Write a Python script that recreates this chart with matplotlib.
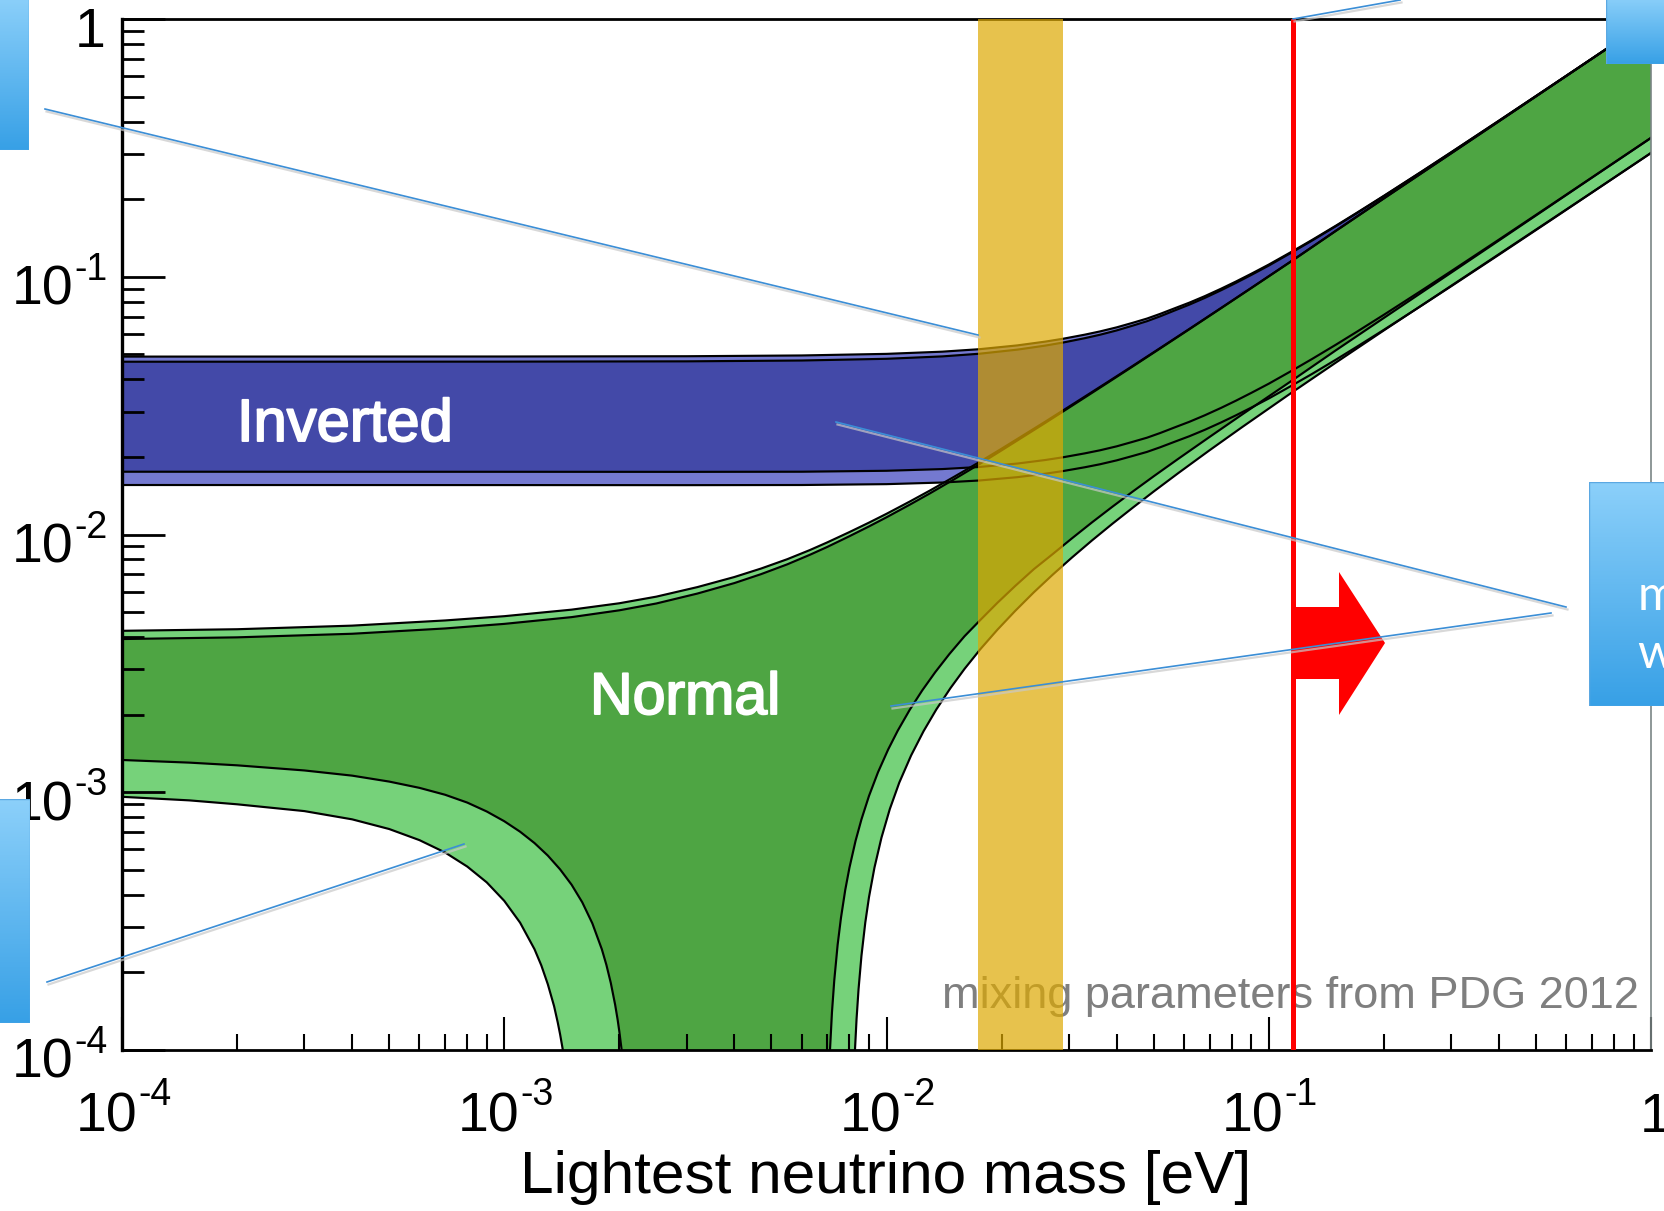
import numpy as np
import matplotlib
matplotlib.use('Agg')
import matplotlib.pyplot as plt
import matplotlib.patheffects as pe
from matplotlib.ticker import LogLocator, NullFormatter, FixedLocator
from matplotlib.colors import LinearSegmentedColormap
from matplotlib.patches import Polygon, Rectangle
from matplotlib.lines import Line2D
from matplotlib.transforms import blended_transform_factory, ScaledTranslation

# ---------------- data ----------------
# Normal hierarchy: upper boundaries (3 sigma and best fit)
nh_up_m = [1e-4, 2e-4, 4e-4, 7e-4, 1e-3, 1.5e-3, 2e-3, 2.5e-3, 3.2e-3, 4e-3, 4.7e-3,
           5.5e-3, 6.3e-3, 7e-3, 8e-3, 9e-3, 0.01, 0.0115, 0.013, 0.015, 0.0175, 0.02,
           0.023, 0.026, 0.029, 0.033, 0.038, 0.044, 0.052, 0.062, 0.075, 0.09, 0.1157,
           0.15, 0.2, 0.3, 0.4, 0.55, 0.7, 1.0]
nh_up_3s = [0.00423, 0.00429, 0.00443, 0.00464, 0.00482, 0.00511, 0.00541, 0.00574,
            0.00625, 0.00684, 0.00738, 0.00802, 0.00870, 0.00932, 0.01022, 0.01112,
            0.01203, 0.01342, 0.01482, 0.01672, 0.01910, 0.02152, 0.02446, 0.02738,
            0.03033, 0.03426, 0.03915, 0.04503, 0.05291, 0.06277, 0.07563, 0.09052,
            0.1161, 0.1510, 0.2014, 0.3012, 0.4010, 0.5508, 0.7006, 1.0005]
nh_up_bf = [0.00393, 0.00399, 0.00412, 0.00432, 0.00450, 0.00478, 0.00508, 0.00540,
            0.00590, 0.00648, 0.00702, 0.00766, 0.00834, 0.00895, 0.00985, 0.01075,
            0.01166, 0.01305, 0.01445, 0.01635, 0.01875, 0.02120, 0.02415, 0.02708,
            0.03004, 0.03398, 0.03890, 0.04480, 0.05270, 0.06257, 0.07546, 0.09036,
            0.11593, 0.1508, 0.2012, 0.3010, 0.4008, 0.5506, 0.7004, 1.0003]

# Normal hierarchy: lower-left boundaries (cancellation branch)
nh_lo_left_bf_m = [1e-4, 1.5e-4, 2e-4, 3e-4, 4e-4, 5e-4, 6e-4, 7e-4, 8e-4, 9e-4, 1.0e-3,
                   1.1e-3, 1.2e-3, 1.3e-3, 1.4e-3, 1.5e-3, 1.6e-3, 1.7e-3, 1.8e-3,
                   1.85e-3, 1.9e-3, 1.95e-3, 1.98e-3, 2.0e-3, 2.03e-3, 2.06e-3, 2.1e-3]
nh_lo_left_bf = [1.334e-3, 1.303e-3, 1.272e-3, 1.215e-3, 1.160e-3, 1.100e-3, 1.040e-3,
                 9.78e-4, 9.12e-4, 8.42e-4, 7.72e-4, 7.03e-4, 6.35e-4, 5.68e-4, 5.02e-4,
                 4.38e-4, 3.74e-4, 3.10e-4, 2.46e-4, 2.14e-4, 1.82e-4, 1.50e-4, 1.31e-4,
                 1.18e-4, 9.9e-5, 8.0e-5, 5.4e-5]
nh_lo_left_3s_m = [1e-4, 1.5e-4, 2e-4, 3e-4, 4e-4, 5e-4, 6e-4, 7e-4, 8e-4, 9e-4, 1.0e-3,
                   1.1e-3, 1.2e-3, 1.25e-3, 1.3e-3, 1.35e-3, 1.38e-3, 1.4e-3, 1.425e-3,
                   1.45e-3, 1.5e-3]
nh_lo_left_3s = [9.60e-4, 9.30e-4, 8.98e-4, 8.45e-4, 7.85e-4, 7.20e-4, 6.52e-4, 5.84e-4,
                 5.15e-4, 4.47e-4, 3.79e-4, 3.12e-4, 2.46e-4, 2.13e-4, 1.80e-4, 1.48e-4,
                 1.28e-4, 1.15e-4, 9.9e-5, 8.3e-5, 5.0e-5]

# Normal hierarchy: lower-right boundaries (rising branch)
nh_lo_right_bf_m = [6.95e-3, 7.05e-3, 7.115e-3, 7.2e-3, 7.3e-3, 7.45e-3, 7.6e-3, 7.8e-3,
                    8.0e-3, 8.3e-3, 8.6e-3, 9.0e-3, 9.5e-3, 0.0101, 0.0107, 0.0115,
                    0.0124, 0.0134, 0.0146, 0.016, 0.0176, 0.0195, 0.0217, 0.0243,
                    0.0272, 0.0305, 0.0345, 0.039, 0.044, 0.05, 0.058, 0.07, 0.085,
                    0.1157, 0.15, 0.2, 0.3, 0.4, 0.55, 0.7, 1.0]
nh_lo_right_bf = [2.4e-5, 7.0e-5, 1.0e-4, 1.40e-4, 1.86e-4, 2.56e-4, 3.25e-4, 4.18e-4,
                  5.10e-4, 6.48e-4, 7.85e-4, 9.68e-4, 1.195e-3, 1.465e-3, 1.733e-3,
                  2.088e-3, 2.483e-3, 2.918e-3, 3.435e-3, 4.03e-3, 4.66e-3, 5.43e-3,
                  6.31e-3, 7.34e-3, 8.39e-3, 9.64e-3, 0.01115, 0.01282, 0.01465,
                  0.01682, 0.01967, 0.0239, 0.02915, 0.0398, 0.0519, 0.0692, 0.1037,
                  0.1382, 0.1901, 0.2421, 0.3455]
nh_lo_right_3s_m = [8.1e-3, 8.2e-3, 8.27e-3, 8.35e-3, 8.45e-3, 8.6e-3, 8.8e-3, 9.0e-3,
                    9.3e-3, 9.7e-3, 0.0102, 0.0108, 0.0116, 0.0125, 0.0135, 0.0147,
                    0.016, 0.0176, 0.0195, 0.0217, 0.0243, 0.0272, 0.0305, 0.0345,
                    0.039, 0.044, 0.05, 0.058, 0.07, 0.085, 0.1157, 0.15, 0.2, 0.3, 0.4,
                    0.55, 0.7, 1.0]
nh_lo_right_3s = [3.3e-5, 7.2e-5, 1.0e-4, 1.32e-4, 1.72e-4, 2.32e-4, 3.12e-4, 3.92e-4,
                  5.1e-4, 6.66e-4, 8.6e-4, 1.09e-3, 1.39e-3, 1.725e-3, 2.095e-3,
                  2.535e-3, 3.01e-3, 3.59e-3, 4.27e-3, 5.05e-3, 5.97e-3, 6.98e-3,
                  8.12e-3, 9.49e-3, 0.01101, 0.01268, 0.01468, 0.01731, 0.02122,
                  0.02604, 0.0358, 0.0465, 0.0619, 0.0922, 0.1223, 0.1673, 0.2122, 0.302]

# Inverted hierarchy
ih_m = [1e-4, 1e-3, 3e-3, 6e-3, 0.01, 0.014, 0.0175, 0.022, 0.026, 0.029, 0.033, 0.0362,
        0.04, 0.044, 0.048, 0.052, 0.057, 0.062, 0.068, 0.075, 0.082, 0.09, 0.1, 0.1157,
        0.13, 0.15, 0.17, 0.2, 0.25, 0.3, 0.4, 0.55, 0.7, 1.0]
ih_up_3s = [0.04900, 0.04904, 0.04916, 0.04950, 0.05021, 0.05121, 0.05235, 0.05416,
            0.05601, 0.05749, 0.05960, 0.06137, 0.06362, 0.06623, 0.06881, 0.07178,
            0.07565, 0.07935, 0.08407, 0.08984, 0.09576, 0.10269, 0.11147, 0.12587,
            0.1391, 0.15795, 0.17709, 0.20604, 0.25485, 0.30407, 0.40306, 0.55223,
            0.70176, 1.0012]
ih_up_bf = [0.04681, 0.04685, 0.04697, 0.04732, 0.04805, 0.04909, 0.05027, 0.05215,
            0.05405, 0.05558, 0.05776, 0.05958, 0.06190, 0.06458, 0.06721, 0.07024,
            0.07420, 0.07796, 0.08276, 0.08861, 0.09461, 0.10161, 0.11048, 0.12499,
            0.13831, 0.15725, 0.17647, 0.2055, 0.25441, 0.30370, 0.40279, 0.55203,
            0.7016, 1.0011]
ih_lo_bf = [0.01752, 0.01751, 0.01750, 0.01752, 0.01767, 0.01794, 0.01828, 0.01885,
            0.01945, 0.01994, 0.02064, 0.02122, 0.02198, 0.02287, 0.02374, 0.02476,
            0.0261, 0.02737, 0.0290, 0.03098, 0.03303, 0.03543, 0.03846, 0.04345,
            0.04803, 0.05455, 0.06117, 0.07118, 0.08805, 0.10508, 0.1393, 0.1909,
            0.2426, 0.3461]
ih_lo_3s = [0.01556, 0.01555, 0.01554, 0.01556, 0.01568, 0.01591, 0.0162, 0.01669,
            0.01721, 0.01763, 0.01823, 0.01873, 0.01939, 0.02016, 0.02091, 0.0218,
            0.02296, 0.02406, 0.02547, 0.0272, 0.02898, 0.03106, 0.0337, 0.03805,
            0.04203, 0.04772, 0.0535, 0.06223, 0.07696, 0.09183, 0.1217, 0.1667,
            0.2119, 0.3023]

# Vertical markers
band_lo, band_hi = 0.01733, 0.0289
red_line_m = 0.1157

# Tick labels (mantissa, exponent)
x_ticks = [1e-4, 1e-3, 1e-2, 1e-1]
x_exps = ['-4', '-3', '-2', '-1']
y_ticks = [1e-4, 1e-3, 1e-2, 1e-1]
y_exps = ['-4', '-3', '-2', '-1']

# ---------------- style ----------------
W, H, DPI = 1664, 1211, 100
plt.rcParams['font.family'] = ['Liberation Sans', 'DejaVu Sans']

C_LB, C_DB = '#7479D0', '#4349A8'
C_LG, C_DG = '#76D27A', '#4EA543'
FLOOR = 1e-7


def fx(x):
    return x / W


def fy(y):
    return 1 - y / H


fig = plt.figure(figsize=(W / DPI, H / DPI), dpi=DPI)
fig.patch.set_facecolor('white')
ax = fig.add_axes([fx(122), fy(1050), (1651 - 122) / W, (1050 - 19) / H])
ax.set_xscale('log')
ax.set_yscale('log')


def region(up_m, up_v, rm, rv, lm=None, lv=None):
    xs = list(up_m) + list(rm)[::-1]
    ys = list(up_v) + list(rv)[::-1]
    if lm is not None:
        xs += [rm[0], lm[-1]] + list(lm)[::-1]
        ys += [FLOOR, FLOOR] + list(lv)[::-1]
    return xs, ys


# inverted (drawn first, green covers it)
xs, ys = region(ih_m, ih_up_3s, ih_m, ih_lo_3s)
ax.fill(xs, ys, color=C_LB, lw=0, zorder=1)
xs, ys = region(ih_m, ih_up_bf, ih_m, ih_lo_bf)
ax.fill(xs, ys, color=C_DB, lw=0, zorder=1)
# normal
xs, ys = region(nh_up_m, nh_up_3s, nh_lo_right_3s_m, nh_lo_right_3s,
                nh_lo_left_3s_m, nh_lo_left_3s)
ax.fill(xs, ys, color=C_LG, lw=0, zorder=1)
xs, ys = region(nh_up_m, nh_up_bf, nh_lo_right_bf_m, nh_lo_right_bf,
                nh_lo_left_bf_m, nh_lo_left_bf)
ax.fill(xs, ys, color=C_DG, lw=0, zorder=1)

lw_c = 1.55
for m, v in [(nh_up_m, nh_up_3s), (nh_up_m, nh_up_bf),
             (nh_lo_left_bf_m, nh_lo_left_bf), (nh_lo_left_3s_m, nh_lo_left_3s),
             (nh_lo_right_bf_m, nh_lo_right_bf), (nh_lo_right_3s_m, nh_lo_right_3s),
             (ih_m, ih_up_3s), (ih_m, ih_up_bf), (ih_m, ih_lo_bf), (ih_m, ih_lo_3s)]:
    ax.plot(m, v, color='black', lw=lw_c, zorder=2, solid_joinstyle='round')

ax.text(0.9922, 0.0407, 'mixing parameters from PDG 2012', transform=ax.transAxes,
        color='#7F7F7F', fontsize=32.5, ha='right', va='baseline', zorder=2.7)
ax.axvspan(band_lo, band_hi, color='#DEA902', alpha=0.7, lw=0, zorder=3)
ax.axvline(red_line_m, color='#FF0000', lw=3.6, zorder=4)

bold_fx = [pe.withStroke(linewidth=1.4, foreground='white')]
ax.text(0.0752, 0.5907, 'Inverted', transform=ax.transAxes, color='white',
        fontsize=43, ha='left', va='baseline', zorder=5, path_effects=bold_fx)
ax.text(0.3061, 0.3259, 'Normal', transform=ax.transAxes, color='white',
        fontsize=42.5, ha='left', va='baseline', zorder=5, path_effects=bold_fx)

ax.set_xlim(1e-4, 1)
ax.set_ylim(1e-4, 1)
ax.xaxis.set_major_locator(FixedLocator(x_ticks + [1.0]))
ax.yaxis.set_major_locator(FixedLocator(y_ticks + [1.0]))
ax.xaxis.set_major_formatter(NullFormatter())
ax.yaxis.set_major_formatter(NullFormatter())
ax.xaxis.set_minor_locator(LogLocator(base=10, subs=np.arange(2, 10), numticks=30))
ax.yaxis.set_minor_locator(LogLocator(base=10, subs=np.arange(2, 10), numticks=30))
ax.xaxis.set_minor_formatter(NullFormatter())
ax.yaxis.set_minor_formatter(NullFormatter())
ax.tick_params(axis='both', which='both', direction='in', top=False, right=False,
               colors='black')
ax.tick_params(axis='y', which='major', length=31, width=2.0)
ax.tick_params(axis='y', which='minor', length=16, width=2.0)
ax.tick_params(axis='x', which='major', length=24, width=1.5)
ax.tick_params(axis='x', which='minor', length=11.5, width=1.5)
ax.spines['left'].set_linewidth(2.4)
for s in ['bottom', 'top']:
    ax.spines[s].set_linewidth(2.0)
ax.spines['right'].set_linewidth(1.2)
ax.spines['right'].set_color('#7A8585')


# ---- tick labels drawn as "10" + raised exponent ----
def off(dx, dy):
    return ScaledTranslation(dx / DPI, -dy / DPI, fig.dpi_scale_trans)


FS_MAIN, FS_EXP = 40, 27
tx = blended_transform_factory(ax.transData, fig.transFigure)
for t, e in zip(x_ticks, x_exps):
    ax.text(t, fy(1132), '10', transform=tx + off(15, 0), ha='right', va='baseline',
            fontsize=FS_MAIN, clip_on=False)
    ax.text(t, fy(1105), e, transform=tx + off(16, 0), ha='left', va='baseline',
            fontsize=FS_EXP, clip_on=False)
ax.text(1.0, fy(1132), '1', transform=tx + off(4, 0), ha='center', va='baseline',
        fontsize=FS_MAIN, clip_on=False)

ty = blended_transform_factory(fig.transFigure, ax.transData)
for t, e in zip(y_ticks, y_exps):
    ax.text(fx(73), t, '10', transform=ty + off(0, 28), ha='right', va='baseline',
            fontsize=FS_MAIN, clip_on=False)
    ax.text(fx(74), t, e, transform=ty + off(0, 3), ha='left', va='baseline',
            fontsize=FS_EXP, clip_on=False)
ax.text(fx(106), 1.0, '1', transform=ty + off(0, 28), ha='right', va='baseline',
        fontsize=FS_MAIN, clip_on=False)

fig.text(fx(886), fy(1193), 'Lightest neutrino mass [eV]', ha='center', va='baseline',
         fontsize=43.5)

# red block arrow
arrow_px = [(1293, 607), (1339, 607), (1339, 572), (1385, 643), (1339, 715),
            (1339, 679), (1293, 679)]
fig.add_artist(Polygon([(fx(x), fy(y)) for x, y in arrow_px], closed=True,
                       transform=fig.transFigure, facecolor='#FF0000',
                       edgecolor='none', zorder=10))

# callout lines
callouts = [((45, 109), (978, 335)), ((836, 422), (1566, 607)),
            ((891, 706), (1551, 613)), ((47, 982), (464, 844)),
            ((1293, 19), (1400, 0))]
for (x0, y0), (x1, y1) in callouts:
    fig.add_artist(Line2D([fx(x0 + 1.5), fx(x1 + 1.5)], [fy(y0 + 2.5), fy(y1 + 2.5)],
                          transform=fig.transFigure, color='#C8C8C8', lw=1.6,
                          alpha=0.7, zorder=10.5))
    fig.add_artist(Line2D([fx(x0), fx(x1)], [fy(y0), fy(y1)],
                          transform=fig.transFigure, color='#3B8ED6', lw=1.2,
                          zorder=11))

# partially visible callout boxes
cmap_box = LinearSegmentedColormap.from_list('box', ['#8CD0FA', '#37A0E6'])
grad = np.linspace(0, 1, 256)[:, None]
for (x0, y0, x1, y1) in [(-4, -4, 29, 150), (-4, 799, 30, 1023),
                         (1606, -4, 1670, 64), (1589, 482, 1670, 706)]:
    axb = fig.add_axes([fx(x0), fy(y1), (x1 - x0) / W, (y1 - y0) / H], zorder=12)
    axb.imshow(grad, aspect='auto', cmap=cmap_box, extent=[0, 1, 0, 1], origin='upper')
    axb.add_patch(Rectangle((0, 0), 1, 1, transform=axb.transAxes, fill=False,
                            ec='#5BA8E2', lw=1.0))
    axb.set_axis_off()

fig.text(fx(1638), fy(610), 'm', color='white', fontsize=35, family=['Lato', 'DejaVu Sans'],
         ha='left', va='baseline', zorder=13)
fig.text(fx(1637), fy(668), 'w', color='white', fontsize=35, family=['Lato', 'DejaVu Sans'],
         ha='left', va='baseline', zorder=13)

fig.savefig('out.png', dpi=DPI, facecolor='white')
